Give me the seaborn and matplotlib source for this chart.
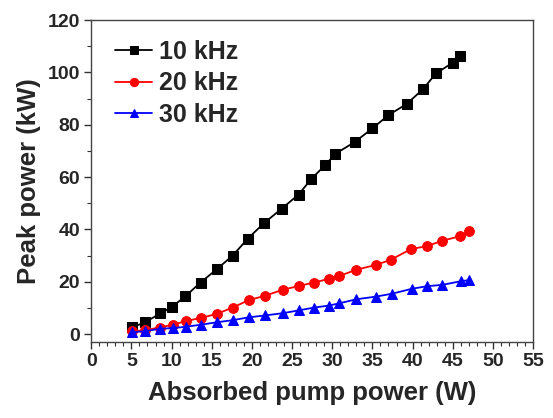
import matplotlib
matplotlib.use("Agg")
import matplotlib.pyplot as plt
from matplotlib.ticker import MultipleLocator
import seaborn as sns

# Data
x_10k = [5.1, 6.7, 8.6, 10.0, 11.7, 13.6, 15.6, 17.6, 19.5, 21.5, 23.7, 25.8,
         27.4, 29.1, 30.4, 32.8, 35.0, 37.0, 39.25, 41.3, 42.9, 45.0, 45.9]
y_10k = [2.6, 4.5, 7.9, 10.3, 14.4, 19.7, 24.7, 30.0, 36.5, 42.4, 47.9, 53.3,
         59.3, 64.5, 68.9, 73.4, 78.6, 83.7, 87.9, 93.6, 99.6, 103.7, 106.2]

x_20k = [5.1, 6.7, 8.5, 10.2, 11.8, 13.7, 15.6, 17.6, 19.6, 21.6, 23.9, 25.9,
         27.7, 29.6, 30.8, 33.0, 35.4, 37.3, 39.8, 41.8, 43.6, 45.9, 47.0]
y_20k = [1.0, 1.5, 2.5, 3.6, 5.0, 6.2, 7.7, 10.1, 13.0, 14.6, 17.0, 18.4,
         19.7, 21.1, 22.1, 24.6, 26.4, 28.4, 32.5, 33.6, 35.6, 37.4, 39.2]

x_30k = [5.1, 6.7, 8.5, 10.2, 11.8, 13.7, 15.6, 17.6, 19.6, 21.6, 23.9, 25.9,
         27.7, 29.6, 30.8, 33.0, 35.4, 37.4, 39.9, 41.8, 43.7, 46.0, 47.0]
y_30k = [0.7, 1.1, 2.0, 2.3, 2.8, 3.6, 4.5, 5.3, 6.4, 7.1, 8.0, 9.1,
         10.1, 10.9, 11.7, 13.3, 14.3, 15.4, 17.3, 18.3, 18.8, 20.2, 20.6]

labels = ["10 kHz", "20 kHz", "30 kHz"]
x_ticks = [0, 5, 10, 15, 20, 25, 30, 35, 40, 45, 50, 55]
y_ticks = [0, 20, 40, 60, 80, 100, 120]

sns.set_style("ticks")
plt.rcParams['font.family'] = ['Liberation Sans', 'DejaVu Sans']
plt.rcParams['font.weight'] = 'bold'

fig = plt.figure(figsize=(5.53, 4.18), dpi=100)
ax = fig.add_axes([0.165, 0.182, 0.799, 0.770])

series = [(x_10k, y_10k, "black", "s", 6.5),
          (x_20k, y_20k, "#ff0000", "o", 7),
          (x_30k, y_30k, "#0000ff", "^", 7.5)]
for (xs, ys, c, m, ms), lab in zip(series, labels):
    sns.lineplot(x=xs, y=ys, ax=ax, color=c, marker=m, markersize=ms,
                 markeredgecolor=c, linewidth=1.3, label=lab, sort=False)

ax.set_xlim(0, 55)
ax.set_ylim(-3, 120)
ax.set_xticks(x_ticks)
ax.set_yticks(y_ticks)
ax.xaxis.set_minor_locator(MultipleLocator(1))
ax.yaxis.set_minor_locator(MultipleLocator(10))
ax.tick_params(axis='both', which='major', direction='out', length=5, width=1,
               labelsize=14, color='#333333', pad=3)
ax.tick_params(axis='both', which='minor', direction='out', length=3, width=0.8,
               color='#333333')
for lbl in ax.get_xticklabels() + ax.get_yticklabels():
    lbl.set_fontweight('bold')
for s in ax.spines.values():
    s.set_visible(True)
    s.set_color('#444444')
    s.set_linewidth(1.0)

ax.set_xlabel("Absorbed pump power (W)", fontsize=18.5, fontweight='bold', labelpad=8)
ax.set_ylabel("Peak power (kW)", fontsize=18.5, fontweight='bold', labelpad=5)

leg = ax.legend(loc='upper left', frameon=False, fontsize=18, handlelength=1.5,
                handletextpad=0.25, labelspacing=0.3, borderaxespad=0.3,
                bbox_to_anchor=(0.014, 0.993), markerscale=0.85)
for t in leg.get_texts():
    t.set_fontweight('bold')

fig.savefig("out.png", dpi=100)
